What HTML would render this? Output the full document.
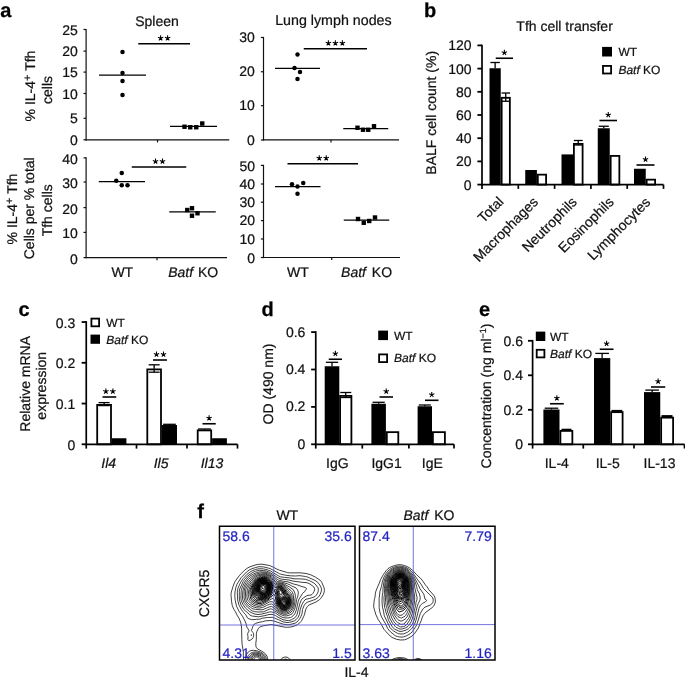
<!DOCTYPE html>
<html><head><meta charset="utf-8"><title>Figure</title>
<style>
html,body{margin:0;padding:0;background:#fff;}
body{width:685px;height:681px;overflow:hidden;}
svg{display:block;font-family:"Liberation Sans",sans-serif;text-rendering:geometricPrecision;}
text{white-space:pre;}
svg{will-change:transform;transform:translateZ(0);}
</style></head><body>
<svg width="685" height="681" viewBox="0 0 685 681">
<rect width="685" height="681" fill="#fff"/>
<text x="0.2" y="17.2" font-size="20" text-anchor="start" fill="#000" font-weight="bold" stroke="#000" stroke-width="0.25">a</text>
<text x="424" y="17.2" font-size="20" text-anchor="start" fill="#000" font-weight="bold" stroke="#000" stroke-width="0.25">b</text>
<text x="18.4" y="315.6" font-size="20" text-anchor="start" fill="#000" font-weight="bold" stroke="#000" stroke-width="0.25">c</text>
<text x="261.5" y="315.6" font-size="20" text-anchor="start" fill="#000" font-weight="bold" stroke="#000" stroke-width="0.25">d</text>
<text x="478.9" y="315.6" font-size="20" text-anchor="start" fill="#000" font-weight="bold" stroke="#000" stroke-width="0.25">e</text>
<text x="197.2" y="518" font-size="20" text-anchor="start" fill="#000" font-weight="bold" stroke="#000" stroke-width="0.25">f</text>
<line x1="86.1" y1="28.9" x2="86.1" y2="140.4" stroke="#111" stroke-width="1.2"/>
<line x1="85.5" y1="139.8" x2="229.25" y2="139.8" stroke="#111" stroke-width="1.2"/>
<line x1="157.5" y1="139.8" x2="157.5" y2="142.4" stroke="#111" stroke-width="1.2"/>
<line x1="83.5" y1="29.5" x2="86.1" y2="29.5" stroke="#111" stroke-width="1.2"/>
<line x1="83.5" y1="51.1" x2="86.1" y2="51.1" stroke="#111" stroke-width="1.2"/>
<line x1="83.5" y1="72.1" x2="86.1" y2="72.1" stroke="#111" stroke-width="1.2"/>
<line x1="83.5" y1="93.5" x2="86.1" y2="93.5" stroke="#111" stroke-width="1.2"/>
<line x1="83.5" y1="118.3" x2="86.1" y2="118.3" stroke="#111" stroke-width="1.2"/>
<line x1="83.5" y1="139.8" x2="86.1" y2="139.8" stroke="#111" stroke-width="1.2"/>
<text x="77.8" y="34.89" font-size="14.0" text-anchor="end" fill="#111" stroke="#111" stroke-width="0.22" >25</text>
<text x="77.8" y="56.19" font-size="14.0" text-anchor="end" fill="#111" stroke="#111" stroke-width="0.22" >20</text>
<text x="77.8" y="77.19" font-size="14.0" text-anchor="end" fill="#111" stroke="#111" stroke-width="0.22" >15</text>
<text x="77.8" y="98.59" font-size="14.0" text-anchor="end" fill="#111" stroke="#111" stroke-width="0.22" >10</text>
<text x="77.8" y="123.19" font-size="14.0" text-anchor="end" fill="#111" stroke="#111" stroke-width="0.22" >5</text>
<text x="77.8" y="145.19" font-size="14.0" text-anchor="end" fill="#111" stroke="#111" stroke-width="0.22" >0</text>
<text x="157" y="26" font-size="14.0" text-anchor="middle" fill="#111" stroke="#111" stroke-width="0.22" >Spleen</text>
<circle cx="122.5" cy="52" r="2.25" fill="#000"/>
<circle cx="122.5" cy="73" r="2.25" fill="#000"/>
<circle cx="122.5" cy="81" r="2.25" fill="#000"/>
<circle cx="122.5" cy="95" r="2.25" fill="#000"/>
<line x1="99" y1="75" x2="146" y2="75" stroke="#000" stroke-width="1.25"/>
<rect x="182.3" y="124.55" width="4.4" height="4.4" fill="#000"/>
<rect x="188.05" y="125.05" width="4.4" height="4.4" fill="#000"/>
<rect x="194.05" y="125.05" width="4.4" height="4.4" fill="#000"/>
<rect x="200.05" y="121.3" width="4.4" height="4.4" fill="#000"/>
<line x1="170" y1="126.25" x2="217" y2="126.25" stroke="#000" stroke-width="1.25"/>
<line x1="138.25" y1="43.75" x2="190" y2="43.75" stroke="#000" stroke-width="1.6"/>
<path d="M160.62 38.15L160.62 35.35M160.62 38.15L163.29 37.28M160.62 38.15L162.27 40.42M160.62 38.15L158.98 40.42M160.62 38.15L157.96 37.28" stroke="#000" stroke-width="1.05" fill="none"/>
<circle cx="160.62" cy="38.15" r="0.9" fill="#000"/>
<path d="M167.62 38.15L167.62 35.35M167.62 38.15L170.29 37.28M167.62 38.15L169.27 40.42M167.62 38.15L165.98 40.42M167.62 38.15L164.96 37.28" stroke="#000" stroke-width="1.05" fill="none"/>
<circle cx="167.62" cy="38.15" r="0.9" fill="#000"/>
<line x1="263.5" y1="36.9" x2="263.5" y2="140.4" stroke="#111" stroke-width="1.2"/>
<line x1="262.9" y1="139.8" x2="399" y2="139.8" stroke="#111" stroke-width="1.2"/>
<line x1="331" y1="139.8" x2="331" y2="142.4" stroke="#111" stroke-width="1.2"/>
<line x1="260.9" y1="37.5" x2="263.5" y2="37.5" stroke="#111" stroke-width="1.2"/>
<line x1="260.9" y1="71.75" x2="263.5" y2="71.75" stroke="#111" stroke-width="1.2"/>
<line x1="260.9" y1="105.7" x2="263.5" y2="105.7" stroke="#111" stroke-width="1.2"/>
<line x1="260.9" y1="140" x2="263.5" y2="140" stroke="#111" stroke-width="1.2"/>
<text x="254.8" y="42.29" font-size="14.0" text-anchor="end" fill="#111" stroke="#111" stroke-width="0.22" >30</text>
<text x="254.8" y="76.49" font-size="14.0" text-anchor="end" fill="#111" stroke="#111" stroke-width="0.22" >20</text>
<text x="254.8" y="110.19" font-size="14.0" text-anchor="end" fill="#111" stroke="#111" stroke-width="0.22" >10</text>
<text x="254.8" y="145.19" font-size="14.0" text-anchor="end" fill="#111" stroke="#111" stroke-width="0.22" >0</text>
<text x="333.4" y="24.7" font-size="14.25" text-anchor="middle" fill="#111" stroke="#111" stroke-width="0.22" >Lung lymph nodes</text>
<circle cx="297.5" cy="54.5" r="2.25" fill="#000"/>
<circle cx="294.5" cy="68" r="2.25" fill="#000"/>
<circle cx="300" cy="72" r="2.25" fill="#000"/>
<circle cx="297.5" cy="79" r="2.25" fill="#000"/>
<line x1="275" y1="68.25" x2="320" y2="68.25" stroke="#000" stroke-width="1.25"/>
<rect x="355.3" y="125.55" width="4.4" height="4.4" fill="#000"/>
<rect x="360.8" y="127.55" width="4.4" height="4.4" fill="#000"/>
<rect x="366.05" y="127.55" width="4.4" height="4.4" fill="#000"/>
<rect x="371.8" y="124.05" width="4.4" height="4.4" fill="#000"/>
<line x1="343.25" y1="128.5" x2="388.25" y2="128.5" stroke="#000" stroke-width="1.25"/>
<line x1="303.75" y1="48.75" x2="367" y2="48.75" stroke="#000" stroke-width="1.6"/>
<path d="M328.38 43.15L328.38 40.35M328.38 43.15L331.04 42.28M328.38 43.15L330.02 45.42M328.38 43.15L326.73 45.42M328.38 43.15L325.71 42.28" stroke="#000" stroke-width="1.05" fill="none"/>
<circle cx="328.38" cy="43.15" r="0.9" fill="#000"/>
<path d="M335.38 43.15L335.38 40.35M335.38 43.15L338.04 42.28M335.38 43.15L337.02 45.42M335.38 43.15L333.73 45.42M335.38 43.15L332.71 42.28" stroke="#000" stroke-width="1.05" fill="none"/>
<circle cx="335.38" cy="43.15" r="0.9" fill="#000"/>
<path d="M342.38 43.15L342.38 40.35M342.38 43.15L345.04 42.28M342.38 43.15L344.02 45.42M342.38 43.15L340.73 45.42M342.38 43.15L339.71 42.28" stroke="#000" stroke-width="1.05" fill="none"/>
<circle cx="342.38" cy="43.15" r="0.9" fill="#000"/>
<line x1="86.1" y1="157.3" x2="86.1" y2="258.2" stroke="#111" stroke-width="1.2"/>
<line x1="85.5" y1="257.6" x2="227" y2="257.6" stroke="#111" stroke-width="1.2"/>
<line x1="157" y1="257.6" x2="157" y2="260.2" stroke="#111" stroke-width="1.2"/>
<line x1="83.5" y1="157.9" x2="86.1" y2="157.9" stroke="#111" stroke-width="1.2"/>
<line x1="83.5" y1="182" x2="86.1" y2="182" stroke="#111" stroke-width="1.2"/>
<line x1="83.5" y1="207.6" x2="86.1" y2="207.6" stroke="#111" stroke-width="1.2"/>
<line x1="83.5" y1="232.4" x2="86.1" y2="232.4" stroke="#111" stroke-width="1.2"/>
<line x1="83.5" y1="257.6" x2="86.1" y2="257.6" stroke="#111" stroke-width="1.2"/>
<text x="77.8" y="163.69" font-size="14.0" text-anchor="end" fill="#111" stroke="#111" stroke-width="0.22" >40</text>
<text x="77.8" y="187.79" font-size="14.0" text-anchor="end" fill="#111" stroke="#111" stroke-width="0.22" >30</text>
<text x="77.8" y="213.69" font-size="14.0" text-anchor="end" fill="#111" stroke="#111" stroke-width="0.22" >20</text>
<text x="77.8" y="237.99" font-size="14.0" text-anchor="end" fill="#111" stroke="#111" stroke-width="0.22" >10</text>
<text x="77.8" y="263.59" font-size="14.0" text-anchor="end" fill="#111" stroke="#111" stroke-width="0.22" >0</text>
<circle cx="121.75" cy="173" r="2.25" fill="#000"/>
<circle cx="116.25" cy="180.75" r="2.25" fill="#000"/>
<circle cx="121.75" cy="185.25" r="2.25" fill="#000"/>
<circle cx="127.5" cy="185.25" r="2.25" fill="#000"/>
<line x1="98.75" y1="181.5" x2="145" y2="181.5" stroke="#000" stroke-width="1.25"/>
<rect x="185.05" y="207.8" width="4.4" height="4.4" fill="#000"/>
<rect x="189.8" y="206.05" width="4.4" height="4.4" fill="#000"/>
<rect x="189.8" y="213.55" width="4.4" height="4.4" fill="#000"/>
<rect x="195.3" y="211.05" width="4.4" height="4.4" fill="#000"/>
<line x1="169.25" y1="211.75" x2="215.75" y2="211.75" stroke="#000" stroke-width="1.25"/>
<line x1="131.75" y1="167" x2="186.25" y2="167" stroke="#000" stroke-width="1.6"/>
<path d="M155.5 161.4L155.5 158.6M155.5 161.4L158.16 160.53M155.5 161.4L157.15 163.67M155.5 161.4L153.85 163.67M155.5 161.4L152.84 160.53" stroke="#000" stroke-width="1.05" fill="none"/>
<circle cx="155.5" cy="161.4" r="0.9" fill="#000"/>
<path d="M162.5 161.4L162.5 158.6M162.5 161.4L165.16 160.53M162.5 161.4L164.15 163.67M162.5 161.4L160.85 163.67M162.5 161.4L159.84 160.53" stroke="#000" stroke-width="1.05" fill="none"/>
<circle cx="162.5" cy="161.4" r="0.9" fill="#000"/>
<text x="122.3" y="277.3" font-size="14.0" text-anchor="middle" fill="#111" stroke="#111" stroke-width="0.22" >WT</text>
<text x="193.2" y="277.3" font-size="14.0" text-anchor="middle" fill="#111" stroke="#111" stroke-width="0.22" word-spacing="1"><tspan font-style="italic">Batf</tspan> KO</text>
<line x1="263.5" y1="164.8" x2="263.5" y2="258.1" stroke="#111" stroke-width="1.2"/>
<line x1="262.9" y1="257.5" x2="400" y2="257.5" stroke="#111" stroke-width="1.2"/>
<line x1="331.75" y1="257.5" x2="331.75" y2="260.1" stroke="#111" stroke-width="1.2"/>
<line x1="260.9" y1="165.4" x2="263.5" y2="165.4" stroke="#111" stroke-width="1.2"/>
<line x1="260.9" y1="184" x2="263.5" y2="184" stroke="#111" stroke-width="1.2"/>
<line x1="260.9" y1="202.2" x2="263.5" y2="202.2" stroke="#111" stroke-width="1.2"/>
<line x1="260.9" y1="220.6" x2="263.5" y2="220.6" stroke="#111" stroke-width="1.2"/>
<line x1="260.9" y1="239" x2="263.5" y2="239" stroke="#111" stroke-width="1.2"/>
<line x1="260.9" y1="257.5" x2="263.5" y2="257.5" stroke="#111" stroke-width="1.2"/>
<text x="255" y="171.49" font-size="14.0" text-anchor="end" fill="#111" stroke="#111" stroke-width="0.22" >50</text>
<text x="255" y="189.19" font-size="14.0" text-anchor="end" fill="#111" stroke="#111" stroke-width="0.22" >40</text>
<text x="255" y="207.19" font-size="14.0" text-anchor="end" fill="#111" stroke="#111" stroke-width="0.22" >30</text>
<text x="255" y="225.29" font-size="14.0" text-anchor="end" fill="#111" stroke="#111" stroke-width="0.22" >20</text>
<text x="255" y="243.89" font-size="14.0" text-anchor="end" fill="#111" stroke="#111" stroke-width="0.22" >10</text>
<text x="255" y="263.19" font-size="14.0" text-anchor="end" fill="#111" stroke="#111" stroke-width="0.22" >0</text>
<circle cx="292" cy="184.25" r="2.25" fill="#000"/>
<circle cx="297.5" cy="186.5" r="2.25" fill="#000"/>
<circle cx="303.25" cy="183" r="2.25" fill="#000"/>
<circle cx="297.5" cy="193.75" r="2.25" fill="#000"/>
<line x1="275" y1="186.7" x2="320.5" y2="186.7" stroke="#000" stroke-width="1.25"/>
<rect x="355.8" y="216.8" width="4.4" height="4.4" fill="#000"/>
<rect x="361.55" y="220.55" width="4.4" height="4.4" fill="#000"/>
<rect x="367.05" y="218.8" width="4.4" height="4.4" fill="#000"/>
<rect x="372.8" y="215.3" width="4.4" height="4.4" fill="#000"/>
<line x1="343.75" y1="220" x2="389.25" y2="220" stroke="#000" stroke-width="1.25"/>
<line x1="287.5" y1="163.75" x2="358" y2="163.75" stroke="#000" stroke-width="1.6"/>
<path d="M319.25 158.15L319.25 155.35M319.25 158.15L321.91 157.28M319.25 158.15L320.9 160.42M319.25 158.15L317.6 160.42M319.25 158.15L316.59 157.28" stroke="#000" stroke-width="1.05" fill="none"/>
<circle cx="319.25" cy="158.15" r="0.9" fill="#000"/>
<path d="M326.25 158.15L326.25 155.35M326.25 158.15L328.91 157.28M326.25 158.15L327.9 160.42M326.25 158.15L324.6 160.42M326.25 158.15L323.59 157.28" stroke="#000" stroke-width="1.05" fill="none"/>
<circle cx="326.25" cy="158.15" r="0.9" fill="#000"/>
<text x="298" y="277.3" font-size="14.0" text-anchor="middle" fill="#111" stroke="#111" stroke-width="0.22" >WT</text>
<text x="366.6" y="277.3" font-size="14.0" text-anchor="middle" fill="#111" stroke="#111" stroke-width="0.22" word-spacing="2"><tspan font-style="italic">Batf</tspan> KO</text>
<text transform="translate(35.3 86) rotate(-90)" font-size="14.0" text-anchor="middle" fill="#111" stroke="#111" stroke-width="0.22" >% IL-4<tspan font-size="11" dy="-4.5">+</tspan><tspan dy="4.5"> Tfh</tspan></text>
<text transform="translate(52.2 90) rotate(-90)" font-size="14.0" text-anchor="middle" fill="#111" stroke="#111" stroke-width="0.22" >cells</text>
<text transform="translate(17.4 209) rotate(-90)" font-size="14.0" text-anchor="middle" fill="#111" stroke="#111" stroke-width="0.22" >% IL-4<tspan font-size="11" dy="-4.5">+</tspan><tspan dy="4.5"> Tfh</tspan></text>
<text transform="translate(34.4 208.3) rotate(-90)" font-size="14.0" text-anchor="middle" fill="#111" stroke="#111" stroke-width="0.22" >Cells per % total</text>
<text transform="translate(51.8 210.3) rotate(-90)" font-size="14.0" text-anchor="middle" fill="#111" stroke="#111" stroke-width="0.22" >Tfh cells</text>
<rect x="489.5" y="68.25" width="11.25" height="116.35" fill="#000"/>
<line x1="495.12" y1="68.25" x2="495.12" y2="62.5" stroke="#000" stroke-width="1.3"/>
<line x1="490.4" y1="62.5" x2="499.85" y2="62.5" stroke="#000" stroke-width="1.3"/>
<rect x="501.65" y="97.8" width="8.2" height="86.8" fill="#fff" stroke="#000" stroke-width="1.8"/>
<line x1="505.75" y1="96.9" x2="505.75" y2="93" stroke="#000" stroke-width="1.3"/>
<line x1="501.55" y1="93" x2="509.95" y2="93" stroke="#000" stroke-width="1.3"/>
<line x1="505.75" y1="96.9" x2="505.75" y2="101.25" stroke="#000" stroke-width="1.3"/>
<line x1="501.55" y1="101.25" x2="509.95" y2="101.25" stroke="#000" stroke-width="1.3"/>
<rect x="525.25" y="170" width="11.65" height="14.6" fill="#000"/>
<rect x="537.8" y="174.65" width="8.3" height="9.95" fill="#fff" stroke="#000" stroke-width="1.8"/>
<rect x="561.5" y="154.4" width="11.5" height="30.2" fill="#000"/>
<rect x="573.9" y="143.9" width="8.7" height="40.7" fill="#fff" stroke="#000" stroke-width="1.8"/>
<line x1="578.25" y1="143" x2="578.25" y2="140.5" stroke="#000" stroke-width="1.3"/>
<line x1="573.84" y1="140.5" x2="582.66" y2="140.5" stroke="#000" stroke-width="1.3"/>
<line x1="578.25" y1="143" x2="578.25" y2="145" stroke="#000" stroke-width="1.3"/>
<line x1="573.84" y1="145" x2="582.66" y2="145" stroke="#000" stroke-width="1.3"/>
<rect x="597.75" y="128.25" width="12" height="56.35" fill="#000"/>
<line x1="603.75" y1="128.25" x2="603.75" y2="126.25" stroke="#000" stroke-width="1.3"/>
<line x1="598.71" y1="126.25" x2="608.79" y2="126.25" stroke="#000" stroke-width="1.3"/>
<rect x="610.65" y="155.9" width="8.7" height="28.7" fill="#fff" stroke="#000" stroke-width="1.8"/>
<rect x="634" y="168.75" width="11.75" height="15.85" fill="#000"/>
<rect x="646.65" y="179.65" width="8.45" height="4.95" fill="#fff" stroke="#000" stroke-width="1.8"/>
<line x1="482" y1="44.65" x2="482" y2="185.45" stroke="#000" stroke-width="1.7"/>
<line x1="482" y1="184.6" x2="663.5" y2="184.6" stroke="#000" stroke-width="1.7"/>
<line x1="482" y1="184.6" x2="482" y2="188.9" stroke="#000" stroke-width="1.7"/>
<line x1="518.3" y1="184.6" x2="518.3" y2="188.9" stroke="#000" stroke-width="1.7"/>
<line x1="554.6" y1="184.6" x2="554.6" y2="188.9" stroke="#000" stroke-width="1.7"/>
<line x1="590.9" y1="184.6" x2="590.9" y2="188.9" stroke="#000" stroke-width="1.7"/>
<line x1="627.2" y1="184.6" x2="627.2" y2="188.9" stroke="#000" stroke-width="1.7"/>
<line x1="663.5" y1="184.6" x2="663.5" y2="188.9" stroke="#000" stroke-width="1.7"/>
<line x1="477.4" y1="184.6" x2="482" y2="184.6" stroke="#000" stroke-width="1.8"/>
<line x1="477.4" y1="161.4" x2="482" y2="161.4" stroke="#000" stroke-width="1.8"/>
<line x1="477.4" y1="138.2" x2="482" y2="138.2" stroke="#000" stroke-width="1.8"/>
<line x1="477.4" y1="115" x2="482" y2="115" stroke="#000" stroke-width="1.8"/>
<line x1="477.4" y1="91.8" x2="482" y2="91.8" stroke="#000" stroke-width="1.8"/>
<line x1="477.4" y1="68.6" x2="482" y2="68.6" stroke="#000" stroke-width="1.8"/>
<line x1="477.4" y1="45.4" x2="482" y2="45.4" stroke="#000" stroke-width="1.8"/>
<text x="471.5" y="189.69" font-size="14.0" text-anchor="end" fill="#111" stroke="#111" stroke-width="0.22" >0</text>
<text x="471.5" y="166.49" font-size="14.0" text-anchor="end" fill="#111" stroke="#111" stroke-width="0.22" >20</text>
<text x="471.5" y="143.29" font-size="14.0" text-anchor="end" fill="#111" stroke="#111" stroke-width="0.22" >40</text>
<text x="471.5" y="120.09" font-size="14.0" text-anchor="end" fill="#111" stroke="#111" stroke-width="0.22" >60</text>
<text x="471.5" y="96.89" font-size="14.0" text-anchor="end" fill="#111" stroke="#111" stroke-width="0.22" >80</text>
<text x="471.5" y="73.69" font-size="14.0" text-anchor="end" fill="#111" stroke="#111" stroke-width="0.22" >100</text>
<text x="471.5" y="50.49" font-size="14.0" text-anchor="end" fill="#111" stroke="#111" stroke-width="0.22" >120</text>
<text x="564.6" y="30.6" font-size="14.0" text-anchor="middle" fill="#111" stroke="#111" stroke-width="0.22" >Tfh cell transfer</text>
<text transform="translate(435.6 112.8) rotate(-90)" font-size="14.0" text-anchor="middle" fill="#111" stroke="#111" stroke-width="0.22" >BALF cell count (%)</text>
<rect x="602.1" y="46.9" width="9.9" height="9.6" fill="#000"/>
<rect x="603" y="65.9" width="8.1" height="7.6" fill="#fff" stroke="#000" stroke-width="1.8"/>
<text x="618.4" y="56.4" font-size="12.0" text-anchor="start" fill="#111" stroke="#111" stroke-width="0.22" >WT</text>
<text x="618.4" y="74.4" font-size="12.0" text-anchor="start" fill="#111" stroke="#111" stroke-width="0.22" ><tspan font-style="italic">Batf</tspan> KO</text>
<line x1="495.75" y1="58.25" x2="513" y2="58.25" stroke="#000" stroke-width="1.6"/>
<path d="M504.38 52.65L504.38 49.85M504.38 52.65L507.04 51.78M504.38 52.65L506.02 54.92M504.38 52.65L502.73 54.92M504.38 52.65L501.71 51.78" stroke="#000" stroke-width="1.05" fill="none"/>
<circle cx="504.38" cy="52.65" r="0.9" fill="#000"/>
<line x1="599.5" y1="120.5" x2="617" y2="120.5" stroke="#000" stroke-width="1.6"/>
<path d="M608.25 114.9L608.25 112.1M608.25 114.9L610.91 114.03M608.25 114.9L609.9 117.17M608.25 114.9L606.6 117.17M608.25 114.9L605.59 114.03" stroke="#000" stroke-width="1.05" fill="none"/>
<circle cx="608.25" cy="114.9" r="0.9" fill="#000"/>
<line x1="636.5" y1="165" x2="654.5" y2="165" stroke="#000" stroke-width="1.6"/>
<path d="M645.5 159.4L645.5 156.6M645.5 159.4L648.16 158.53M645.5 159.4L647.15 161.67M645.5 159.4L643.85 161.67M645.5 159.4L642.84 158.53" stroke="#000" stroke-width="1.05" fill="none"/>
<circle cx="645.5" cy="159.4" r="0.9" fill="#000"/>
<text transform="translate(504.4 202.5) rotate(-45)" font-size="14.0" text-anchor="end" fill="#111" stroke="#111" stroke-width="0.22" >Total</text>
<text transform="translate(539 202.75) rotate(-45)" font-size="14.0" text-anchor="end" fill="#111" stroke="#111" stroke-width="0.22" >Macrophages</text>
<text transform="translate(577.8 202.75) rotate(-45)" font-size="14.0" text-anchor="end" fill="#111" stroke="#111" stroke-width="0.22" >Neutrophils</text>
<text transform="translate(614.7 202.75) rotate(-45)" font-size="14.0" text-anchor="end" fill="#111" stroke="#111" stroke-width="0.22" >Eosinophils</text>
<text transform="translate(651.1 203.1) rotate(-45)" font-size="14.0" text-anchor="end" fill="#111" stroke="#111" stroke-width="0.22" >Lymphocytes</text>
<rect x="97.2" y="404.9" width="13.8" height="39.4" fill="#fff" stroke="#000" stroke-width="1.8"/>
<line x1="104.1" y1="404" x2="104.1" y2="402.6" stroke="#000" stroke-width="1.3"/>
<line x1="98.6" y1="402.6" x2="109.6" y2="402.6" stroke="#000" stroke-width="1.3"/>
<line x1="104.1" y1="404" x2="104.1" y2="405.6" stroke="#000" stroke-width="1.3"/>
<line x1="98.6" y1="405.6" x2="109.6" y2="405.6" stroke="#000" stroke-width="1.3"/>
<rect x="111.9" y="438.25" width="14.5" height="6.05" fill="#000"/>
<rect x="147.3" y="369.4" width="13.7" height="74.9" fill="#fff" stroke="#000" stroke-width="1.8"/>
<line x1="154.15" y1="368.5" x2="154.15" y2="364.8" stroke="#000" stroke-width="1.3"/>
<line x1="148.65" y1="364.8" x2="159.65" y2="364.8" stroke="#000" stroke-width="1.3"/>
<line x1="154.15" y1="368.5" x2="154.15" y2="372.2" stroke="#000" stroke-width="1.3"/>
<line x1="148.65" y1="372.2" x2="159.65" y2="372.2" stroke="#000" stroke-width="1.3"/>
<rect x="161.9" y="425" width="15.1" height="19.3" fill="#000"/>
<line x1="169.45" y1="425" x2="169.45" y2="424.3" stroke="#000" stroke-width="1.3"/>
<line x1="163.11" y1="424.3" x2="175.79" y2="424.3" stroke="#000" stroke-width="1.3"/>
<rect x="197.7" y="430.4" width="13.5" height="13.9" fill="#fff" stroke="#000" stroke-width="1.8"/>
<line x1="204.45" y1="429.5" x2="204.45" y2="429" stroke="#000" stroke-width="1.3"/>
<line x1="198.02" y1="429" x2="210.88" y2="429" stroke="#000" stroke-width="1.3"/>
<rect x="212.1" y="438.25" width="14.8" height="6.05" fill="#000"/>
<line x1="86.25" y1="321.15" x2="86.25" y2="445.15" stroke="#000" stroke-width="1.7"/>
<line x1="86.25" y1="444.3" x2="237.5" y2="444.3" stroke="#000" stroke-width="1.7"/>
<line x1="86.25" y1="444.3" x2="86.25" y2="448.6" stroke="#000" stroke-width="1.7"/>
<line x1="136.5" y1="444.3" x2="136.5" y2="448.6" stroke="#000" stroke-width="1.7"/>
<line x1="187" y1="444.3" x2="187" y2="448.6" stroke="#000" stroke-width="1.7"/>
<line x1="237.5" y1="444.3" x2="237.5" y2="448.6" stroke="#000" stroke-width="1.7"/>
<line x1="81.65" y1="444.3" x2="86.25" y2="444.3" stroke="#000" stroke-width="1.8"/>
<line x1="81.65" y1="403.55" x2="86.25" y2="403.55" stroke="#000" stroke-width="1.8"/>
<line x1="81.65" y1="362.8" x2="86.25" y2="362.8" stroke="#000" stroke-width="1.8"/>
<line x1="81.65" y1="322.05" x2="86.25" y2="322.05" stroke="#000" stroke-width="1.8"/>
<text x="75.3" y="449.69" font-size="14.0" text-anchor="end" fill="#111" stroke="#111" stroke-width="0.22" >0</text>
<text x="75.3" y="408.69" font-size="14.0" text-anchor="end" fill="#111" stroke="#111" stroke-width="0.22" >0.1</text>
<text x="75.3" y="368.29" font-size="14.0" text-anchor="end" fill="#111" stroke="#111" stroke-width="0.22" >0.2</text>
<text x="75.3" y="327.69" font-size="14.0" text-anchor="end" fill="#111" stroke="#111" stroke-width="0.22" >0.3</text>
<rect x="91.4" y="318.6" width="7.7" height="7.7" fill="#fff" stroke="#000" stroke-width="1.8"/>
<rect x="90.5" y="334.6" width="9.5" height="9.2" fill="#000"/>
<text x="106.25" y="327" font-size="12.0" text-anchor="start" fill="#111" stroke="#111" stroke-width="0.22" >WT</text>
<text x="106.25" y="343.6" font-size="12.0" text-anchor="start" fill="#111" stroke="#111" stroke-width="0.22" ><tspan font-style="italic">Batf</tspan> KO</text>
<line x1="102.5" y1="397" x2="116.25" y2="397" stroke="#000" stroke-width="1.6"/>
<path d="M105.88 391.4L105.88 388.6M105.88 391.4L108.54 390.53M105.88 391.4L107.52 393.67M105.88 391.4L104.23 393.67M105.88 391.4L103.21 390.53" stroke="#000" stroke-width="1.05" fill="none"/>
<circle cx="105.88" cy="391.4" r="0.9" fill="#000"/>
<path d="M112.88 391.4L112.88 388.6M112.88 391.4L115.54 390.53M112.88 391.4L114.52 393.67M112.88 391.4L111.23 393.67M112.88 391.4L110.21 390.53" stroke="#000" stroke-width="1.05" fill="none"/>
<circle cx="112.88" cy="391.4" r="0.9" fill="#000"/>
<line x1="153" y1="360" x2="167" y2="360" stroke="#000" stroke-width="1.6"/>
<path d="M156.5 354.4L156.5 351.6M156.5 354.4L159.16 353.53M156.5 354.4L158.15 356.67M156.5 354.4L154.85 356.67M156.5 354.4L153.84 353.53" stroke="#000" stroke-width="1.05" fill="none"/>
<circle cx="156.5" cy="354.4" r="0.9" fill="#000"/>
<path d="M163.5 354.4L163.5 351.6M163.5 354.4L166.16 353.53M163.5 354.4L165.15 356.67M163.5 354.4L161.85 356.67M163.5 354.4L160.84 353.53" stroke="#000" stroke-width="1.05" fill="none"/>
<circle cx="163.5" cy="354.4" r="0.9" fill="#000"/>
<line x1="202.5" y1="423.75" x2="215.75" y2="423.75" stroke="#000" stroke-width="1.6"/>
<path d="M209.12 418.15L209.12 415.35M209.12 418.15L211.79 417.28M209.12 418.15L210.77 420.42M209.12 418.15L207.48 420.42M209.12 418.15L206.46 417.28" stroke="#000" stroke-width="1.05" fill="none"/>
<circle cx="209.12" cy="418.15" r="0.9" fill="#000"/>
<text x="108.7" y="467.9" font-size="14.0" text-anchor="middle" fill="#111" stroke="#111" stroke-width="0.22" font-style="italic">Il4</text>
<text x="161.1" y="467.9" font-size="14.0" text-anchor="middle" fill="#111" stroke="#111" stroke-width="0.22" font-style="italic">Il5</text>
<text x="212" y="467.9" font-size="14.0" text-anchor="middle" fill="#111" stroke="#111" stroke-width="0.22" font-style="italic">Il13</text>
<text transform="translate(30.2 383.8) rotate(-90)" font-size="14.0" text-anchor="middle" fill="#111" stroke="#111" stroke-width="0.22" >Relative mRNA</text>
<text transform="translate(46.2 385.8) rotate(-90)" font-size="14.0" text-anchor="middle" fill="#111" stroke="#111" stroke-width="0.22" >expression</text>
<rect x="324.7" y="366.25" width="14.6" height="78.05" fill="#000"/>
<line x1="332" y1="366.25" x2="332" y2="362.3" stroke="#000" stroke-width="1.3"/>
<line x1="325.87" y1="362.3" x2="338.13" y2="362.3" stroke="#000" stroke-width="1.3"/>
<rect x="340.1" y="395.9" width="11.3" height="48.4" fill="#fff" stroke="#000" stroke-width="1.8"/>
<line x1="345.75" y1="395" x2="345.75" y2="392.5" stroke="#000" stroke-width="1.3"/>
<line x1="340.25" y1="392.5" x2="351.25" y2="392.5" stroke="#000" stroke-width="1.3"/>
<line x1="345.75" y1="395" x2="345.75" y2="397.5" stroke="#000" stroke-width="1.3"/>
<line x1="340.25" y1="397.5" x2="351.25" y2="397.5" stroke="#000" stroke-width="1.3"/>
<rect x="371.4" y="403.75" width="14.5" height="40.55" fill="#000"/>
<line x1="378.65" y1="403.75" x2="378.65" y2="402.3" stroke="#000" stroke-width="1.3"/>
<line x1="372.56" y1="402.3" x2="384.74" y2="402.3" stroke="#000" stroke-width="1.3"/>
<rect x="386.8" y="432.15" width="11.5" height="12.15" fill="#fff" stroke="#000" stroke-width="1.8"/>
<rect x="417.6" y="406.25" width="14.4" height="38.05" fill="#000"/>
<line x1="424.8" y1="406.25" x2="424.8" y2="405" stroke="#000" stroke-width="1.3"/>
<line x1="418.75" y1="405" x2="430.85" y2="405" stroke="#000" stroke-width="1.3"/>
<rect x="432.9" y="432.15" width="12" height="12.15" fill="#fff" stroke="#000" stroke-width="1.8"/>
<line x1="315.75" y1="331.15" x2="315.75" y2="445.15" stroke="#000" stroke-width="1.7"/>
<line x1="315.75" y1="444.3" x2="454" y2="444.3" stroke="#000" stroke-width="1.7"/>
<line x1="315.75" y1="444.3" x2="315.75" y2="448.6" stroke="#000" stroke-width="1.7"/>
<line x1="362.3" y1="444.3" x2="362.3" y2="448.6" stroke="#000" stroke-width="1.7"/>
<line x1="408.9" y1="444.3" x2="408.9" y2="448.6" stroke="#000" stroke-width="1.7"/>
<line x1="454" y1="444.3" x2="454" y2="448.6" stroke="#000" stroke-width="1.7"/>
<line x1="311.15" y1="444.3" x2="315.75" y2="444.3" stroke="#000" stroke-width="1.8"/>
<line x1="311.15" y1="406.9" x2="315.75" y2="406.9" stroke="#000" stroke-width="1.8"/>
<line x1="311.15" y1="369.5" x2="315.75" y2="369.5" stroke="#000" stroke-width="1.8"/>
<line x1="311.15" y1="332.1" x2="315.75" y2="332.1" stroke="#000" stroke-width="1.8"/>
<text x="305.4" y="449.29" font-size="14.0" text-anchor="end" fill="#111" stroke="#111" stroke-width="0.22" >0</text>
<text x="305.4" y="411.39" font-size="14.0" text-anchor="end" fill="#111" stroke="#111" stroke-width="0.22" >0.2</text>
<text x="305.4" y="373.69" font-size="14.0" text-anchor="end" fill="#111" stroke="#111" stroke-width="0.22" >0.4</text>
<text x="305.4" y="336.79" font-size="14.0" text-anchor="end" fill="#111" stroke="#111" stroke-width="0.22" >0.6</text>
<rect x="378.2" y="330.6" width="9.8" height="9.5" fill="#000"/>
<rect x="379.1" y="354.4" width="8" height="7.7" fill="#fff" stroke="#000" stroke-width="1.8"/>
<text x="394" y="339.8" font-size="12.0" text-anchor="start" fill="#111" stroke="#111" stroke-width="0.22" >WT</text>
<text x="394" y="362.2" font-size="12.0" text-anchor="start" fill="#111" stroke="#111" stroke-width="0.22" ><tspan font-style="italic">Batf</tspan> KO</text>
<line x1="328.75" y1="359.25" x2="342" y2="359.25" stroke="#000" stroke-width="1.6"/>
<path d="M335.38 353.65L335.38 350.85M335.38 353.65L338.04 352.78M335.38 353.65L337.02 355.92M335.38 353.65L333.73 355.92M335.38 353.65L332.71 352.78" stroke="#000" stroke-width="1.05" fill="none"/>
<circle cx="335.38" cy="353.65" r="0.9" fill="#000"/>
<line x1="379.5" y1="397" x2="393" y2="397" stroke="#000" stroke-width="1.6"/>
<path d="M386.25 391.4L386.25 388.6M386.25 391.4L388.91 390.53M386.25 391.4L387.9 393.67M386.25 391.4L384.6 393.67M386.25 391.4L383.59 390.53" stroke="#000" stroke-width="1.05" fill="none"/>
<circle cx="386.25" cy="391.4" r="0.9" fill="#000"/>
<line x1="425" y1="400.3" x2="438.5" y2="400.3" stroke="#000" stroke-width="1.6"/>
<path d="M431.75 394.7L431.75 391.9M431.75 394.7L434.41 393.83M431.75 394.7L433.4 396.97M431.75 394.7L430.1 396.97M431.75 394.7L429.09 393.83" stroke="#000" stroke-width="1.05" fill="none"/>
<circle cx="431.75" cy="394.7" r="0.9" fill="#000"/>
<text x="337.4" y="467.9" font-size="14.0" text-anchor="middle" fill="#111" stroke="#111" stroke-width="0.22" >IgG</text>
<text x="386.6" y="467.9" font-size="14.0" text-anchor="middle" fill="#111" stroke="#111" stroke-width="0.22" >IgG1</text>
<text x="432.3" y="467.9" font-size="14.0" text-anchor="middle" fill="#111" stroke="#111" stroke-width="0.22" >IgE</text>
<text transform="translate(273.3 384) rotate(-90)" font-size="14.0" text-anchor="middle" fill="#111" stroke="#111" stroke-width="0.22" >OD (490 nm)</text>
<rect x="543.4" y="409.5" width="16.1" height="34.8" fill="#000"/>
<line x1="551.45" y1="409.5" x2="551.45" y2="408.2" stroke="#000" stroke-width="1.3"/>
<line x1="544.69" y1="408.2" x2="558.21" y2="408.2" stroke="#000" stroke-width="1.3"/>
<rect x="560.4" y="430.9" width="11.95" height="13.4" fill="#fff" stroke="#000" stroke-width="1.8"/>
<line x1="561.5" y1="429.8" x2="571.5" y2="429.8" stroke="#000" stroke-width="2.2"/>
<rect x="594" y="358.1" width="16.25" height="86.2" fill="#000"/>
<line x1="602.12" y1="358.1" x2="602.12" y2="353.4" stroke="#000" stroke-width="1.3"/>
<line x1="595.3" y1="353.4" x2="608.95" y2="353.4" stroke="#000" stroke-width="1.3"/>
<rect x="611.15" y="412.15" width="11.45" height="32.15" fill="#fff" stroke="#000" stroke-width="1.8"/>
<line x1="611.5" y1="411.2" x2="622.3" y2="411.2" stroke="#000" stroke-width="2.6"/>
<rect x="644" y="392.1" width="16.25" height="52.2" fill="#000"/>
<line x1="652.12" y1="392.1" x2="652.12" y2="390.1" stroke="#000" stroke-width="1.3"/>
<line x1="645.3" y1="390.1" x2="658.95" y2="390.1" stroke="#000" stroke-width="1.3"/>
<rect x="661.15" y="417.65" width="11.95" height="26.65" fill="#fff" stroke="#000" stroke-width="1.8"/>
<line x1="661.5" y1="416.4" x2="672.5" y2="416.4" stroke="#000" stroke-width="2.6"/>
<line x1="532.6" y1="339.9" x2="532.6" y2="445.15" stroke="#000" stroke-width="1.7"/>
<line x1="532.6" y1="444.3" x2="684.5" y2="444.3" stroke="#000" stroke-width="1.7"/>
<line x1="532.6" y1="444.3" x2="532.6" y2="448.6" stroke="#000" stroke-width="1.7"/>
<line x1="583.3" y1="444.3" x2="583.3" y2="448.6" stroke="#000" stroke-width="1.7"/>
<line x1="634" y1="444.3" x2="634" y2="448.6" stroke="#000" stroke-width="1.7"/>
<line x1="684.5" y1="444.3" x2="684.5" y2="448.6" stroke="#000" stroke-width="1.7"/>
<line x1="528" y1="444.3" x2="532.6" y2="444.3" stroke="#000" stroke-width="1.8"/>
<line x1="528" y1="409.8" x2="532.6" y2="409.8" stroke="#000" stroke-width="1.8"/>
<line x1="528" y1="375.3" x2="532.6" y2="375.3" stroke="#000" stroke-width="1.8"/>
<line x1="528" y1="340.8" x2="532.6" y2="340.8" stroke="#000" stroke-width="1.8"/>
<text x="523" y="449.49" font-size="14.0" text-anchor="end" fill="#111" stroke="#111" stroke-width="0.22" >0</text>
<text x="523" y="414.79" font-size="14.0" text-anchor="end" fill="#111" stroke="#111" stroke-width="0.22" >0.2</text>
<text x="523" y="380.29" font-size="14.0" text-anchor="end" fill="#111" stroke="#111" stroke-width="0.22" >0.4</text>
<text x="523" y="346.09" font-size="14.0" text-anchor="end" fill="#111" stroke="#111" stroke-width="0.22" >0.6</text>
<rect x="535.8" y="331.6" width="9.5" height="9.4" fill="#000"/>
<rect x="536.7" y="349.8" width="7.7" height="7.6" fill="#fff" stroke="#000" stroke-width="1.8"/>
<text x="550" y="340.6" font-size="12.0" text-anchor="start" fill="#111" stroke="#111" stroke-width="0.22" >WT</text>
<text x="550" y="357.8" font-size="12.0" text-anchor="start" fill="#111" stroke="#111" stroke-width="0.22" ><tspan font-style="italic">Batf</tspan> KO</text>
<line x1="550" y1="403.75" x2="563.75" y2="403.75" stroke="#000" stroke-width="1.6"/>
<path d="M556.88 398.15L556.88 395.35M556.88 398.15L559.54 397.28M556.88 398.15L558.52 400.42M556.88 398.15L555.23 400.42M556.88 398.15L554.21 397.28" stroke="#000" stroke-width="1.05" fill="none"/>
<circle cx="556.88" cy="398.15" r="0.9" fill="#000"/>
<line x1="599.75" y1="349.25" x2="613.5" y2="349.25" stroke="#000" stroke-width="1.6"/>
<path d="M606.62 343.65L606.62 340.85M606.62 343.65L609.29 342.78M606.62 343.65L608.27 345.92M606.62 343.65L604.98 345.92M606.62 343.65L603.96 342.78" stroke="#000" stroke-width="1.05" fill="none"/>
<circle cx="606.62" cy="343.65" r="0.9" fill="#000"/>
<line x1="651" y1="387" x2="665.25" y2="387" stroke="#000" stroke-width="1.6"/>
<path d="M658.12 381.4L658.12 378.6M658.12 381.4L660.79 380.53M658.12 381.4L659.77 383.67M658.12 381.4L656.48 383.67M658.12 381.4L655.46 380.53" stroke="#000" stroke-width="1.05" fill="none"/>
<circle cx="658.12" cy="381.4" r="0.9" fill="#000"/>
<text x="556.8" y="467.9" font-size="14.0" text-anchor="middle" fill="#111" stroke="#111" stroke-width="0.22" >IL-4</text>
<text x="607.75" y="467.9" font-size="14.0" text-anchor="middle" fill="#111" stroke="#111" stroke-width="0.22" >IL-5</text>
<text x="659.5" y="467.9" font-size="14.0" text-anchor="middle" fill="#111" stroke="#111" stroke-width="0.22" >IL-13</text>
<text transform="translate(490.5 396) rotate(-90)" font-size="14.0" text-anchor="middle" fill="#111" stroke="#111" stroke-width="0.22" >Concentration (ng ml<tspan font-size="9" dy="-5">−1</tspan><tspan dy="5">)</tspan></text>
<clipPath id="cw"><rect x="219.5" y="526.25" width="135.5" height="133.75"/></clipPath>
<g clip-path="url(#cw)" fill="none" stroke="#000" stroke-width="0.75" stroke-linejoin="round">
<path d="M246.3 665.8 244.6 663.2 243.9 661.2 243.5 659.8 243.3 655.2 243.4 652.2 242.1 644.2 241.8 639.2 241.6 628.2 240.9 623.2 240.5 621.8 239.0 618.2 237.1 615.2 235.5 611.8 233.8 609.2 232.3 605.8 231.5 601.2 231.1 595.8 231.0 594.2 231.3 592.2 232.9 586.8 234.4 582.8 235.2 581.2 239.2 575.8 241.0 573.8 244.6 570.2 248.0 567.7 251.0 566.4 257.0 564.5 258.5 564.3 262.0 564.2 269.5 565.5 273.0 567.0 277.0 569.2 279.5 570.2 287.5 572.6 289.5 572.9 300.0 572.8 306.0 573.5 310.5 574.7 315.5 577.2 320.1 580.2 321.0 581.2 321.7 582.2 323.7 586.8 324.2 588.2 324.4 590.8 323.8 593.2 323.2 594.8 321.6 597.2 320.4 598.8 319.4 599.8 316.0 602.0 309.4 604.8 307.5 606.3 306.5 607.8 305.6 609.8 304.4 614.8 303.8 616.2 301.9 620.2 301.0 621.5 299.8 622.8 297.5 624.6 296.0 625.4 293.0 626.5 290.0 627.1 286.5 627.3 284.0 627.0 272.0 624.6 270.5 624.5 262.0 626.1 259.6 627.2 258.2 628.8 257.0 631.2 256.4 633.2 256.3 639.8 255.8 643.2 255.9 646.2 256.5 647.8 257.4 648.8 261.5 651.0 264.0 652.6 265.7 654.2 267.0 656.2 267.4 657.2 267.7 658.8 267.4 661.2 266.7 663.2 264.9 665.8"/>
<path d="M287.0 664.8 285.5 665.1 284.0 664.8 282.5 664.1 281.3 662.8 280.8 661.2 281.0 659.8 282.0 658.3 283.0 657.6 285.0 657.0 287.0 657.2 288.5 657.9 289.7 659.2 290.1 660.8 290.1 661.8 289.7 662.8 288.5 664.1 287.0 664.8Z"/>
<path d="M250.0 640.3 248.5 640.6 248.1 640.2 247.9 639.8 248.0 636.8 247.6 634.2 247.8 633.2 248.9 631.2 248.9 630.2 246.9 627.2 246.3 625.2 245.9 623.2 244.4 619.8 242.5 616.2 239.3 611.8 236.5 606.2 235.2 600.2 234.8 596.2 235.0 591.8 235.9 587.2 237.0 584.2 241.0 577.8 246.5 572.0 250.0 569.5 255.5 567.5 259.0 566.7 263.5 566.9 270.0 568.5 279.5 573.7 280.9 574.2 285.5 575.2 290.5 575.8 295.5 576.0 299.0 575.7 301.0 575.8 305.5 576.5 307.5 577.0 315.0 580.4 317.0 581.8 319.0 583.7 321.0 587.2 321.5 589.2 321.3 591.2 320.0 594.8 318.0 597.5 316.0 599.0 315.0 599.5 307.5 602.2 306.0 603.1 305.0 604.1 304.0 605.7 302.5 609.5 302.0 613.8 300.8 616.8 299.4 619.2 297.0 622.0 296.0 622.7 295.0 623.2 290.0 624.5 288.5 624.7 286.5 624.7 283.0 624.1 273.5 620.9 271.0 620.5 265.5 620.8 262.5 621.7 259.0 622.3 255.5 623.4 254.2 624.2 253.5 625.2 252.7 626.8 252.1 628.8 251.4 630.2 251.5 630.8 253.0 632.5 253.5 633.8 253.7 635.2 253.4 636.8 253.0 637.7 252.0 639.0 251.0 639.8 250.0 640.3Z"/>
<path d="M249.4 665.8 247.0 663.2 245.9 661.2 245.6 659.2 245.9 656.2 246.7 654.2 248.5 651.8 249.5 651.2 251.0 650.6 253.5 650.3 256.5 650.7 260.5 652.0 263.4 653.8 265.2 655.8 265.8 656.8 266.3 658.2 266.2 660.8 265.1 663.2 264.4 664.2 262.8 665.8"/>
<path d="M286.0 662.8 284.5 662.7 283.8 662.2 283.4 661.8 283.3 661.2 283.4 660.2 283.8 659.8 284.5 659.3 285.5 659.1 286.3 659.2 287.0 659.6 287.5 660.2 287.7 661.2 287.5 661.9 287.0 662.5 286.0 662.8Z"/>
<path d="M289.5 622.3 287.0 622.6 283.0 621.8 278.5 619.7 276.0 618.8 274.0 617.8 272.5 617.3 267.5 617.5 262.5 618.2 259.5 619.2 256.5 619.3 253.0 619.7 251.5 619.6 249.0 618.8 248.0 618.3 247.4 617.8 245.8 614.8 243.5 612.4 241.5 609.8 239.0 605.2 237.7 600.2 237.3 592.8 237.5 590.2 238.0 588.2 239.7 584.2 241.3 581.2 242.9 578.8 247.1 574.2 251.0 571.4 255.5 569.4 259.5 568.7 263.5 568.9 267.0 569.7 270.5 571.0 278.5 575.9 280.5 576.8 284.5 577.4 289.5 577.9 294.0 578.8 300.5 578.9 305.5 579.3 309.5 580.7 311.8 581.8 314.1 583.2 316.0 585.0 318.0 587.8 318.4 589.2 318.1 591.8 317.2 593.8 316.3 595.2 315.4 596.2 314.0 597.0 309.5 598.5 306.0 599.2 305.0 599.8 303.5 601.8 301.8 604.8 300.1 609.8 299.5 614.2 298.2 617.2 296.0 619.7 294.5 620.8 293.0 621.4 289.5 622.3Z"/>
<path d="M251.5 635.4 251.0 635.3 251.0 634.7 251.5 634.9 251.5 635.4Z"/>
<path d="M251.8 665.8 249.3 663.8 247.7 661.8 247.1 659.8 247.2 657.8 247.6 656.8 248.5 655.3 250.5 653.3 252.5 652.3 255.0 651.9 256.5 652.0 258.5 652.5 261.0 653.4 262.5 654.4 263.4 655.2 264.7 657.2 265.2 659.2 265.1 660.2 264.7 661.8 263.3 663.8 260.8 665.8"/>
<path d="M290.0 620.3 288.5 620.5 287.0 620.5 283.0 619.7 278.0 617.2 275.5 615.6 273.5 614.8 272.0 614.4 269.0 614.5 265.0 615.6 258.5 616.8 252.5 616.1 251.0 615.7 250.0 615.1 247.0 612.2 244.1 609.8 241.0 605.0 239.8 601.2 239.5 599.8 239.3 596.2 239.3 591.2 239.8 588.8 243.0 581.8 244.3 579.8 247.8 575.8 252.5 572.6 255.5 571.2 259.5 570.3 263.5 570.5 266.5 571.1 270.0 572.5 273.0 574.4 277.0 577.2 280.2 578.8 282.5 579.3 289.0 580.0 293.0 581.1 303.0 582.4 307.0 582.7 310.0 584.0 313.7 586.8 314.5 588.2 314.6 589.8 314.0 591.5 312.7 593.8 312.0 594.5 311.0 595.0 310.0 595.2 308.0 595.3 307.0 595.6 303.5 597.8 301.8 599.2 300.9 600.8 299.8 603.8 297.1 614.2 296.5 615.8 295.8 616.8 294.0 618.3 291.5 619.7 290.0 620.3Z"/>
<path d="M254.7 665.8 252.0 664.5 250.4 663.2 248.9 661.2 248.5 659.8 248.4 658.8 248.7 657.8 249.3 656.8 251.0 654.7 252.0 653.9 253.0 653.5 255.5 653.0 259.0 653.6 261.3 654.8 263.0 656.4 263.8 657.8 264.1 658.8 264.2 659.8 264.0 660.8 263.6 661.8 262.9 662.8 261.9 663.8 260.5 664.7 257.6 665.8"/>
<path d="M289.0 617.8 286.0 618.0 283.0 617.6 279.0 615.5 275.5 613.1 271.5 611.9 269.5 611.9 266.5 612.9 261.5 614.1 258.0 614.5 255.0 614.1 253.0 613.4 249.5 611.6 245.5 608.1 242.7 604.2 241.2 600.2 240.9 598.2 241.2 590.8 241.5 589.2 242.4 586.8 244.3 582.8 246.3 579.8 248.5 577.2 250.0 576.0 253.8 573.8 256.5 572.6 260.0 571.8 265.0 572.0 267.5 572.7 271.0 574.5 272.9 575.8 276.0 578.5 278.5 580.1 283.5 581.3 288.0 581.9 293.5 584.0 297.0 584.8 302.0 586.6 305.0 587.4 306.4 588.2 306.5 588.8 306.3 589.2 305.5 590.2 304.6 591.8 303.1 592.8 302.5 593.5 298.5 600.0 296.4 609.8 294.8 613.8 293.5 615.4 291.5 617.0 290.5 617.5 289.0 617.8Z"/>
<path d="M257.0 664.8 254.5 664.5 253.0 664.0 252.0 663.3 250.7 661.8 249.9 659.8 249.8 658.8 250.1 657.8 251.5 655.8 253.0 654.7 255.0 654.0 257.0 654.1 258.5 654.5 260.0 655.1 261.0 655.8 262.0 656.8 262.6 657.8 262.9 658.8 263.0 659.8 262.9 660.8 262.4 661.8 261.5 662.8 259.5 664.1 257.0 664.8Z"/>
<path d="M287.0 615.8 285.0 616.0 283.0 615.5 279.0 613.7 276.5 611.9 274.3 610.8 272.5 609.4 271.5 609.0 270.5 608.9 269.5 609.1 263.5 611.8 258.0 612.0 254.5 611.6 252.5 611.0 251.0 610.2 249.0 608.3 247.5 607.2 244.5 603.8 243.7 602.2 242.6 599.2 242.5 595.8 242.9 590.8 243.6 587.8 245.9 582.8 248.6 579.2 251.5 576.9 255.0 574.7 256.5 574.0 260.0 573.1 263.0 572.9 265.0 573.0 267.5 573.8 271.5 576.0 272.5 576.8 276.0 580.4 277.1 581.2 278.0 581.6 281.5 582.1 287.5 583.8 290.5 585.2 292.5 586.4 295.0 587.4 296.3 588.2 297.1 589.2 298.1 591.2 298.3 593.2 297.8 596.2 296.5 599.8 296.1 603.2 294.7 609.2 292.8 612.8 292.0 613.8 290.0 614.9 287.0 615.8Z"/>
<path d="M257.0 663.8 255.0 663.6 252.9 662.8 252.0 661.8 251.2 659.8 251.3 658.2 252.1 656.8 253.5 655.6 255.5 654.9 257.5 655.1 259.5 655.9 261.1 657.2 261.8 658.8 261.8 659.8 261.6 660.8 260.6 662.2 259.0 663.3 257.0 663.8Z"/>
<path d="M286.0 614.3 284.5 614.4 283.5 614.2 279.5 612.6 275.5 609.8 273.0 607.2 271.5 606.5 270.0 606.7 267.1 607.8 263.0 609.6 261.0 609.8 255.5 609.4 253.0 608.9 252.0 608.4 250.5 607.2 248.5 605.9 245.8 602.8 244.8 600.8 244.1 598.2 244.0 596.8 244.2 591.2 244.6 588.8 246.2 585.2 247.7 582.8 250.2 579.8 254.8 576.2 257.0 575.1 262.0 574.0 264.0 573.8 265.5 574.0 269.0 575.5 271.5 577.2 272.6 578.2 275.1 581.2 276.5 582.4 277.5 582.8 281.0 583.0 284.0 584.0 289.5 587.0 293.4 589.8 294.9 593.2 295.4 595.8 295.0 598.8 294.8 602.8 293.7 607.8 292.5 610.2 291.0 612.2 289.0 613.4 286.0 614.3Z"/>
<path d="M258.5 662.3 257.5 662.6 256.0 662.7 254.5 662.3 253.5 661.7 252.9 660.8 252.5 659.2 252.6 658.2 253.5 657.0 255.0 656.1 256.5 655.9 258.0 656.2 259.6 657.2 260.4 658.2 260.6 659.8 259.9 661.2 258.5 662.3Z"/>
<path d="M286.5 612.9 285.0 613.1 283.5 613.1 279.5 611.4 276.5 609.1 273.0 604.8 272.5 604.4 271.5 604.0 269.8 604.2 266.5 605.5 264.0 606.9 262.5 607.5 259.5 608.0 256.5 607.8 253.0 606.8 249.0 604.1 246.8 601.8 246.1 600.2 245.4 596.8 245.6 590.8 246.0 588.8 248.1 584.8 248.7 583.8 251.1 580.8 255.0 577.4 257.5 576.1 262.0 574.9 264.0 574.7 265.5 574.9 268.0 575.9 271.0 577.9 271.9 578.8 274.5 582.1 276.0 583.4 277.5 583.8 280.5 583.7 283.0 584.5 285.0 585.8 291.2 590.8 292.0 591.7 292.6 592.8 293.4 595.2 293.7 601.8 293.3 604.8 292.4 607.8 291.0 610.2 289.0 611.9 286.5 612.9Z"/>
<path d="M257.5 661.3 256.5 661.4 255.5 661.3 254.6 660.8 254.3 660.2 254.1 659.8 254.1 658.8 254.7 657.8 255.3 657.2 256.5 657.0 257.5 657.2 258.5 657.7 259.0 658.3 259.3 659.2 259.0 660.2 258.5 660.8 257.5 661.3Z"/>
<path d="M286.0 611.8 284.5 612.1 283.0 611.8 281.0 611.0 279.0 609.8 276.8 607.8 273.5 602.6 273.0 602.1 272.0 601.7 271.0 601.7 269.5 601.9 263.0 605.5 259.5 606.4 257.0 606.3 254.0 605.4 253.0 604.9 250.5 603.2 247.8 600.2 246.9 596.8 246.9 594.8 247.3 589.8 247.6 588.8 249.5 584.8 252.0 581.7 255.0 578.8 256.5 577.8 261.5 575.9 263.5 575.6 265.0 575.7 267.5 576.6 270.5 578.7 274.0 583.1 275.5 584.5 277.0 584.9 279.5 584.5 280.5 584.6 282.5 585.2 284.0 586.2 286.7 588.8 288.0 590.3 289.7 591.8 290.9 593.2 291.9 595.2 292.2 597.8 292.4 603.8 292.3 604.8 291.4 607.2 290.5 608.8 289.5 609.9 288.0 611.0 286.0 611.8Z"/>
<path d="M286.0 610.8 284.5 611.1 282.5 610.7 280.5 609.8 278.5 608.2 277.3 606.8 276.2 604.8 274.0 599.4 273.5 598.8 273.0 598.5 272.0 598.7 262.6 604.2 260.0 605.0 258.5 605.0 254.5 604.0 253.0 603.2 251.0 601.6 249.6 599.8 248.4 596.2 248.3 594.2 248.8 589.8 250.7 585.2 252.6 582.8 255.0 580.0 256.5 578.9 260.5 577.1 263.5 576.5 265.5 576.6 267.5 577.5 270.0 579.3 274.0 584.7 275.0 585.8 275.5 586.0 276.5 586.1 279.5 585.4 281.0 585.5 282.7 586.2 284.9 588.2 285.8 589.2 287.5 591.9 289.5 593.7 290.5 595.2 291.0 597.2 291.5 602.2 291.3 604.8 290.6 606.8 290.1 607.8 288.5 609.4 286.0 610.8Z"/>
<path d="M285.0 610.3 283.5 610.3 281.5 609.6 279.6 608.2 278.2 606.8 277.3 605.2 276.3 602.8 275.2 596.2 274.5 594.7 274.0 594.3 273.0 594.8 271.1 597.2 269.5 598.8 266.5 600.8 261.5 603.4 259.0 603.6 255.5 602.8 254.0 602.1 251.6 600.2 251.0 599.2 250.2 596.2 249.9 592.2 250.1 589.8 252.3 584.8 253.7 582.8 255.9 580.2 257.0 579.5 261.0 577.7 263.5 577.1 265.5 577.3 267.5 578.2 269.9 580.2 272.1 583.2 274.0 586.6 274.5 587.2 275.0 587.4 276.0 587.3 279.0 586.3 280.5 586.1 282.0 586.6 283.9 588.2 285.1 589.8 286.9 592.8 289.0 594.8 289.6 595.8 290.3 598.2 290.8 602.8 290.7 604.2 290.4 605.2 289.8 606.8 289.2 607.8 287.5 609.2 286.0 610.0 285.0 610.3Z" stroke-width="0.95"/>
<path d="M259.5 602.3 258.0 602.2 256.0 601.6 253.0 599.5 252.3 598.8 251.7 596.8 251.3 593.8 251.1 590.8 251.2 589.8 253.2 584.8 254.6 582.8 256.5 580.6 257.8 579.8 260.5 578.5 263.0 577.8 265.0 577.8 266.0 578.1 267.5 579.0 269.0 580.2 269.9 581.2 272.3 584.8 273.5 588.4 274.5 590.2 273.5 591.3 270.2 596.8 269.0 598.1 266.5 599.8 265.0 600.5 261.5 602.0 259.5 602.3Z" stroke-width="0.95"/>
<path d="M286.0 609.3 285.0 609.6 283.5 609.6 282.0 609.2 281.0 608.6 280.0 607.8 278.6 606.2 277.0 602.8 276.7 601.2 276.7 596.8 274.5 590.8 274.5 590.2 276.6 588.2 279.0 587.0 280.0 586.8 281.0 586.9 282.0 587.4 283.0 588.2 284.3 589.8 286.2 593.2 288.5 595.6 289.3 597.2 290.0 600.8 290.1 603.2 290.0 604.8 289.4 606.2 288.5 607.6 287.5 608.4 286.0 609.3Z" stroke-width="0.95"/>
<path d="M260.5 600.8 258.0 600.8 257.0 600.6 256.0 600.1 253.5 597.8 253.0 596.5 252.5 594.2 252.4 589.8 253.3 586.2 254.0 584.8 254.9 583.2 257.0 580.9 258.5 579.9 261.0 578.8 263.5 578.3 265.0 578.3 266.5 579.0 268.5 580.5 269.5 581.5 271.1 583.8 272.2 586.2 272.6 589.2 272.5 590.2 271.4 593.2 269.6 596.2 268.5 597.6 265.0 599.6 262.5 600.4 260.5 600.8Z" stroke-width="0.95"/>
<path d="M285.5 608.9 284.5 609.1 283.5 609.0 282.0 608.6 281.0 608.0 279.0 605.8 277.6 602.8 277.4 600.8 277.7 596.8 276.3 593.2 276.0 591.8 276.0 590.8 276.5 589.8 277.3 588.8 278.5 587.9 279.5 587.5 280.5 587.4 281.5 587.7 283.0 589.1 283.8 590.2 285.6 593.8 287.5 595.8 288.3 596.8 289.1 598.8 289.4 600.8 289.6 603.2 289.2 605.2 288.8 606.2 288.0 607.3 287.0 608.1 285.5 608.9Z" stroke-width="0.95"/>
<path d="M263.5 599.3 261.0 599.6 258.5 599.5 257.0 599.2 256.0 598.4 254.5 596.8 253.8 595.2 253.4 593.2 253.4 590.8 253.9 586.8 254.4 585.2 255.2 583.8 256.8 581.8 258.0 580.7 260.0 579.7 262.5 578.9 264.0 578.7 265.5 579.0 266.5 579.5 268.1 580.8 269.5 582.2 271.3 585.2 271.7 586.8 271.9 588.8 271.7 590.2 271.1 592.2 268.8 596.2 267.5 597.5 265.0 598.8 263.5 599.3Z" stroke-width="0.95"/>
<path d="M285.5 608.3 284.5 608.5 283.5 608.5 281.5 607.7 279.5 605.6 278.1 602.8 277.9 601.2 278.5 597.8 278.5 596.8 277.0 593.2 276.8 591.2 277.1 590.2 277.8 589.2 279.5 588.1 281.0 588.2 282.5 589.4 283.4 590.8 285.0 594.2 287.5 596.9 288.3 598.2 288.7 599.2 289.1 602.8 288.9 604.8 288.5 605.8 287.8 606.8 287.0 607.5 285.5 608.3Z" stroke-width="0.95"/>
<path d="M262.0 598.8 260.0 598.7 257.8 598.2 256.5 597.4 255.4 596.2 254.7 594.8 254.2 592.2 254.5 587.2 254.8 585.8 255.5 584.2 257.0 582.2 258.0 581.3 259.5 580.4 261.5 579.7 263.0 579.3 264.5 579.3 265.5 579.5 267.0 580.5 268.5 581.8 269.7 583.2 270.6 584.8 271.1 586.2 271.2 589.2 270.9 591.2 270.5 592.2 268.0 596.3 267.0 597.1 264.5 598.3 262.0 598.8Z" stroke-width="0.95"/>
<path d="M285.0 607.9 283.5 608.0 282.5 607.6 281.5 607.0 279.8 605.2 278.6 602.8 278.5 601.2 279.3 597.8 279.3 596.8 279.0 595.8 277.6 593.2 277.4 591.8 277.7 590.8 278.4 589.8 279.0 589.2 280.0 588.7 281.0 588.9 282.0 589.8 283.0 591.2 284.4 594.8 287.3 597.8 288.3 599.8 288.6 601.2 288.6 603.2 288.1 605.2 287.0 606.8 286.0 607.5 285.0 607.9Z" stroke-width="0.95"/>
<path d="M264.0 597.8 262.5 598.1 261.0 598.1 259.0 597.7 257.5 596.9 256.5 596.0 255.8 594.8 255.1 592.8 254.9 591.2 255.1 587.8 255.3 586.2 255.9 584.8 257.2 582.8 258.5 581.5 260.0 580.6 262.5 579.8 264.0 579.7 265.0 579.8 266.0 580.3 267.5 581.4 268.8 582.8 270.3 585.2 270.6 586.2 270.8 587.8 270.6 589.8 270.2 591.8 268.2 595.2 267.0 596.5 264.0 597.8Z" stroke-width="0.95"/>
<path d="M285.0 607.4 283.5 607.5 282.5 607.1 281.5 606.4 280.0 604.8 279.1 602.8 278.9 601.8 279.0 600.8 280.3 596.8 280.0 595.8 278.5 593.5 278.2 592.2 278.6 590.8 279.5 589.8 280.0 589.6 281.0 589.8 282.0 590.7 282.5 591.8 283.3 594.2 283.8 595.2 287.0 598.2 287.7 599.2 288.0 600.2 288.2 602.8 287.8 604.8 286.9 606.2 286.0 607.0 285.0 607.4Z" stroke-width="0.95"/>
<path d="M263.5 597.3 262.0 597.5 261.0 597.4 258.5 596.5 257.6 595.8 256.8 594.8 255.9 592.8 255.6 591.8 255.6 590.2 255.7 587.8 256.1 585.8 256.7 584.2 257.7 582.8 259.0 581.6 260.5 580.9 262.5 580.2 264.0 580.1 265.0 580.3 266.0 580.8 267.5 581.9 268.7 583.2 270.1 585.8 270.3 588.2 270.1 590.2 269.7 591.8 267.6 595.2 267.0 595.9 266.0 596.5 263.5 597.3Z" stroke-width="0.95"/>
<path d="M281.5 594.8 280.5 594.4 280.0 594.0 279.2 592.8 279.2 591.8 279.5 591.2 280.0 590.7 280.5 590.7 281.0 590.8 281.5 591.3 281.9 592.2 282.1 594.2 282.0 594.5 281.5 594.8Z" stroke-width="0.95"/>
<path d="M285.5 606.8 284.0 607.1 282.5 606.5 281.5 605.8 280.6 604.8 279.5 602.8 279.4 601.2 279.8 599.8 280.5 598.4 282.0 596.4 282.5 596.0 283.0 596.0 284.0 596.5 286.0 598.0 287.0 599.1 287.6 600.2 287.8 602.2 287.5 604.2 286.7 605.8 285.5 606.8Z" stroke-width="0.95"/>
<path d="M263.5 596.8 262.0 596.9 261.1 596.8 258.0 594.9 257.2 593.8 256.5 592.2 256.1 590.2 256.4 586.8 257.0 584.8 257.8 583.2 258.8 582.2 260.0 581.5 262.0 580.7 263.5 580.5 265.0 580.7 266.0 581.2 268.3 583.2 269.5 585.2 269.8 586.2 269.9 587.8 269.4 591.2 269.0 592.3 267.5 594.6 266.0 595.9 263.5 596.8Z" stroke-width="0.95"/>
<path d="M285.5 606.3 284.0 606.6 282.5 606.0 281.0 604.6 280.0 602.8 279.9 601.2 280.5 599.4 281.5 598.3 283.0 597.4 284.0 597.4 285.5 598.3 286.5 599.3 287.2 600.8 287.4 602.8 287.1 604.2 286.5 605.3 285.5 606.3Z" stroke-width="0.95"/>
<path d="M263.0 596.3 261.5 596.2 259.0 594.7 258.0 593.8 257.4 592.8 256.8 591.2 256.6 588.8 256.8 587.2 257.3 585.2 257.7 584.2 258.5 583.0 259.4 582.2 260.5 581.6 262.0 581.1 263.5 580.9 265.0 581.2 266.0 581.7 268.3 583.8 269.3 585.8 269.5 588.2 269.0 591.3 268.5 592.4 267.0 594.6 265.5 595.7 263.0 596.3Z" stroke-width="0.95"/>
<path d="M285.5 605.8 284.5 606.2 283.0 605.8 281.5 604.6 280.4 602.8 280.3 601.2 280.9 599.8 281.5 599.1 283.0 598.3 284.0 598.2 285.0 598.6 286.2 599.8 286.8 600.8 287.0 602.2 286.8 603.8 286.4 604.8 285.5 605.8Z" stroke-width="0.95"/>
<path d="M265.0 595.4 263.5 595.7 262.0 595.6 259.5 594.2 258.5 593.4 258.0 592.8 257.1 590.2 257.2 587.2 257.7 585.2 258.4 583.8 260.0 582.2 262.5 581.4 264.5 581.4 266.2 582.2 268.2 584.2 269.1 586.2 269.1 589.2 268.5 591.6 266.7 594.2 266.0 594.9 265.0 595.4Z" stroke-width="0.95"/>
<path d="M285.0 605.5 284.0 605.7 282.9 605.2 281.8 604.2 280.9 602.8 280.8 601.2 281.2 600.2 282.0 599.5 283.0 599.1 284.0 598.9 285.0 599.3 286.0 600.2 286.4 601.2 286.6 602.8 286.4 603.8 285.8 604.8 285.0 605.5Z" stroke-width="0.95"/>
<path d="M265.0 594.9 263.5 595.2 262.5 595.1 260.0 593.8 259.2 593.2 258.5 592.5 257.6 590.2 257.4 588.8 257.6 587.2 258.5 584.2 260.0 582.7 262.0 581.8 264.0 581.7 265.0 582.0 266.0 582.5 267.8 584.2 268.4 585.2 268.7 586.2 268.8 588.8 268.2 591.2 266.5 593.9 265.0 594.9Z" stroke-width="0.95"/>
<path d="M285.0 604.9 284.5 605.1 283.5 605.0 282.5 604.4 281.6 603.2 281.3 602.2 281.4 601.2 282.0 600.3 282.5 600.0 283.5 599.6 284.5 599.7 285.7 600.8 286.1 601.8 286.1 602.8 285.8 603.8 285.0 604.9Z" stroke-width="0.95"/>
<path d="M265.0 594.4 263.0 594.7 262.0 594.4 261.0 593.9 259.0 592.3 258.0 590.2 257.9 587.8 258.7 584.8 259.4 583.8 260.0 583.1 261.0 582.5 262.0 582.2 264.0 582.1 265.5 582.6 267.5 584.4 268.1 585.2 268.4 586.2 268.4 588.8 268.0 590.8 266.5 593.2 266.0 593.8 265.0 594.4Z" stroke-width="0.95"/>
<path d="M284.5 604.3 284.0 604.4 283.0 604.0 282.1 602.8 282.0 601.8 282.2 601.2 282.6 600.8 283.5 600.3 284.5 600.5 285.0 600.9 285.5 601.8 285.5 602.8 285.4 603.2 284.5 604.3Z" stroke-width="0.95"/>
<path d="M263.5 594.3 262.5 594.1 261.5 593.7 259.5 592.2 258.5 590.4 258.2 588.8 258.5 586.5 259.4 584.2 261.0 582.9 263.0 582.4 264.0 582.4 265.0 582.7 266.5 583.8 267.7 585.2 268.1 586.8 267.8 589.8 267.0 591.7 265.5 593.6 264.5 594.1 263.5 594.3Z" stroke-width="0.95"/>
<path d="M284.5 602.9 284.0 603.2 283.5 603.1 283.0 602.5 283.0 601.8 283.8 601.2 284.5 601.5 284.7 602.2 284.5 602.9Z" stroke-width="0.95"/>
<path d="M264.0 593.8 262.5 593.7 260.5 592.5 259.4 591.2 258.6 589.2 258.7 587.2 259.6 584.8 261.0 583.3 262.5 582.8 264.5 582.9 266.0 583.8 267.3 585.2 267.8 586.8 267.5 589.2 267.0 590.9 265.5 593.0 265.0 593.4 264.0 593.8Z" stroke-width="0.95"/>
<path d="M264.0 593.3 262.5 593.2 260.5 592.0 259.5 590.6 258.9 588.8 259.0 587.2 260.0 584.8 261.0 583.7 262.5 583.1 264.0 583.2 265.5 583.8 266.9 585.2 267.4 586.8 267.1 589.2 266.5 590.8 265.0 592.8 264.0 593.3Z" stroke-width="0.95"/>
<path d="M263.5 592.9 262.0 592.5 260.5 591.3 259.6 589.8 259.3 588.2 259.6 586.8 260.6 584.8 261.5 583.9 263.0 583.5 264.5 583.7 265.5 584.3 266.5 585.4 267.0 586.8 266.7 588.8 266.2 590.2 264.7 592.2 264.0 592.7 263.5 592.9Z" stroke-width="0.95"/>
<path d="M264.0 591.8 263.0 592.1 261.5 591.4 260.5 590.2 259.9 588.8 260.0 587.5 260.9 585.2 261.5 584.5 262.5 584.0 264.0 584.1 265.0 584.6 266.0 585.8 266.4 586.8 266.3 587.8 265.9 589.2 264.0 591.8Z" stroke-width="0.95"/>
<path d="M263.5 590.8 263.0 591.0 262.0 590.7 261.3 589.8 260.9 588.2 261.0 586.8 261.5 585.4 262.1 584.8 263.0 584.5 264.0 584.7 264.5 585.0 265.2 585.8 265.6 586.8 265.6 587.8 265.2 588.8 264.5 589.8 263.5 590.8Z" stroke-width="0.95"/>
<path d="M263.5 589.0 263.0 589.1 262.6 588.8 262.0 587.2 262.0 586.2 262.3 585.8 263.0 585.3 264.0 585.8 264.4 586.8 264.4 587.8 264.0 588.6 263.5 589.0Z" stroke-width="0.95"/>
</g>
<line x1="273.75" y1="526.25" x2="273.75" y2="660" stroke="#5050d8" stroke-width="0.8"/>
<line x1="219.5" y1="625" x2="355" y2="625" stroke="#5050d8" stroke-width="0.8"/>
<rect x="219.5" y="526.25" width="135.5" height="133.75" fill="none" stroke="#000" stroke-width="1.5"/>
<text x="222.5" y="540.8" font-size="14.0" text-anchor="start" fill="#2424c4" stroke="#2424c4" stroke-width="0.22" >58.6</text>
<text x="351.8" y="540.8" font-size="14.0" text-anchor="end" fill="#2424c4" stroke="#2424c4" stroke-width="0.22" >35.6</text>
<text x="222.5" y="658" font-size="14.0" text-anchor="start" fill="#2424c4" stroke="#2424c4" stroke-width="0.22" >4.31</text>
<text x="351.8" y="658" font-size="14.0" text-anchor="end" fill="#2424c4" stroke="#2424c4" stroke-width="0.22" >1.5</text>
<clipPath id="ck"><rect x="359.5" y="526.25" width="135.5" height="133.75"/></clipPath>
<g clip-path="url(#ck)" fill="none" stroke="#000" stroke-width="0.75" stroke-linejoin="round">
<path d="M404.5 639.8 400.5 640.0 396.5 639.3 392.0 637.4 388.5 634.5 386.7 632.2 385.0 630.6 383.9 629.2 380.5 622.8 378.3 619.8 375.7 614.2 375.1 611.8 374.4 609.8 373.6 606.2 374.3 599.8 375.0 597.2 375.4 593.2 375.9 591.2 377.5 587.2 379.3 583.2 380.5 579.8 383.2 574.8 386.0 570.8 387.5 569.2 389.0 568.0 391.0 566.9 394.5 565.5 398.5 564.7 402.0 564.9 406.0 566.1 409.0 567.5 412.5 570.2 416.5 574.6 420.4 578.2 422.2 580.2 425.3 584.8 427.1 586.8 428.9 589.8 433.7 595.2 434.8 597.2 435.3 599.8 435.4 601.2 435.1 602.8 434.4 604.8 433.6 606.2 432.0 607.7 426.0 612.1 424.4 613.8 423.0 615.7 422.1 617.8 421.2 620.8 420.0 623.2 418.5 627.8 414.8 633.2 413.0 635.2 411.7 636.2 408.0 638.5 404.5 639.8Z"/>
<path d="M403.0 665.4 400.0 665.6 398.5 665.6 395.5 665.0 393.5 664.4 392.3 663.8 391.3 662.8 390.9 661.8 391.1 660.8 392.0 659.6 393.5 658.8 396.5 657.9 399.0 657.6 401.5 657.6 404.5 658.0 406.5 658.7 408.2 659.8 408.9 660.8 409.0 661.8 408.6 662.8 408.1 663.2 406.0 664.6 403.0 665.4Z"/>
<path d="M419.5 664.4 418.5 664.5 417.0 664.5 415.5 664.0 414.5 663.4 413.9 662.8 413.5 661.8 413.6 660.8 413.9 660.2 414.5 659.6 415.5 659.0 417.5 658.4 419.5 658.6 421.0 659.3 421.6 659.8 422.2 660.8 422.3 661.2 422.2 662.2 421.5 663.2 421.0 663.7 419.5 664.4Z"/>
<path d="M403.5 636.9 402.0 637.1 399.5 636.9 397.5 636.5 395.5 635.8 394.5 635.2 389.4 630.8 387.5 628.2 385.5 623.8 381.7 617.2 380.7 614.8 379.7 611.2 379.2 607.8 379.1 598.8 380.0 591.2 381.5 586.3 382.3 582.2 383.7 577.8 385.2 574.8 386.5 572.8 387.7 571.2 389.5 569.6 392.0 568.0 394.0 567.1 396.0 566.5 399.0 566.0 402.0 566.3 406.0 567.5 408.5 568.9 411.4 571.2 413.2 573.2 417.0 578.9 421.0 584.1 423.5 588.5 432.3 597.2 433.0 598.8 433.2 600.2 433.2 601.2 432.9 602.2 431.5 604.2 430.5 604.9 424.9 607.2 424.0 607.8 423.0 608.9 420.4 613.2 417.4 622.8 415.7 626.8 412.2 631.8 410.8 633.2 408.0 635.0 406.0 636.0 403.5 636.9Z"/>
<path d="M402.5 664.3 399.0 664.6 395.5 663.8 394.5 663.2 393.6 662.2 393.4 661.8 393.6 660.8 394.5 659.9 395.5 659.4 397.0 658.9 399.0 658.6 401.0 658.6 403.5 658.9 404.8 659.2 405.8 659.8 406.4 660.2 406.9 661.2 406.9 661.8 406.5 662.6 405.0 663.6 402.5 664.3Z"/>
<path d="M419.5 663.3 418.5 663.6 417.5 663.6 416.0 663.1 415.0 662.2 414.9 661.8 415.0 660.8 416.0 659.8 417.5 659.3 419.0 659.4 420.0 659.8 420.9 660.8 421.1 661.8 420.5 662.8 419.5 663.3Z"/>
<path d="M404.0 633.8 403.0 634.0 401.0 634.0 398.5 633.7 397.5 633.3 393.5 630.9 391.0 628.8 390.1 627.8 384.3 615.8 383.5 611.1 382.5 607.2 382.1 603.2 382.0 600.8 382.3 595.8 382.9 592.2 383.0 588.2 383.9 582.2 384.6 579.2 385.2 577.8 387.2 573.8 388.3 572.2 390.0 570.7 392.5 569.0 394.5 568.1 396.5 567.5 399.0 567.2 402.0 567.4 406.0 568.6 409.0 570.6 411.2 572.8 413.7 576.2 418.7 585.8 420.0 588.8 423.8 594.2 425.0 599.1 426.5 600.2 426.5 600.8 425.6 601.8 422.5 603.4 421.5 604.2 420.5 605.3 419.5 607.1 419.0 608.3 416.0 620.2 414.3 624.8 413.5 626.2 412.0 628.2 410.5 629.8 407.5 632.2 404.0 633.8Z"/>
<path d="M401.5 663.3 399.5 663.5 398.0 663.2 396.8 662.8 396.2 662.2 395.9 661.8 395.9 661.2 396.2 660.8 397.1 660.2 400.0 659.7 402.5 659.9 403.6 660.2 404.4 660.8 404.7 661.2 404.6 661.8 404.2 662.2 403.4 662.8 401.5 663.3Z"/>
<path d="M418.5 662.4 417.5 662.4 416.9 662.2 416.4 661.8 416.5 661.0 417.0 660.6 418.0 660.4 419.2 660.8 419.6 661.2 419.5 661.8 419.0 662.2 418.5 662.4Z"/>
<path d="M402.0 631.3 400.0 631.4 398.0 630.8 394.5 629.0 393.1 627.8 392.3 626.8 388.8 620.8 388.2 619.2 387.5 616.7 385.8 611.8 385.2 608.8 384.6 607.2 384.0 601.2 384.0 597.2 384.4 594.8 384.5 592.2 384.4 588.8 385.0 582.8 385.7 579.2 386.3 577.8 388.3 573.8 389.6 572.2 391.0 571.0 392.5 570.0 394.5 569.0 396.5 568.4 399.0 568.1 400.5 568.1 402.0 568.4 404.5 569.1 406.0 569.7 408.5 571.3 410.8 573.8 412.8 576.8 414.7 580.8 416.6 586.2 417.3 589.8 419.4 593.8 420.2 597.2 420.0 599.8 418.2 603.8 417.1 606.8 415.9 611.8 414.8 617.8 413.9 620.8 412.4 624.2 409.5 627.8 408.5 628.7 406.0 630.1 402.0 631.3Z"/>
<path d="M402.5 628.8 401.0 629.1 400.0 629.0 398.5 628.5 396.0 627.2 395.0 626.2 394.0 624.8 392.5 623.2 390.2 619.2 387.3 610.8 387.0 608.2 386.1 605.8 385.7 602.8 385.4 597.8 385.8 594.2 385.5 588.2 386.0 582.2 386.7 579.2 388.1 575.8 388.6 574.8 389.8 573.2 392.5 571.0 395.5 569.6 397.5 569.1 399.0 568.9 400.5 569.0 403.0 569.5 405.0 570.2 406.5 571.0 408.0 572.0 409.3 573.2 411.4 576.2 413.3 580.2 414.5 584.2 414.8 587.8 417.1 597.8 416.9 599.8 416.0 602.3 415.7 605.2 414.3 610.8 413.9 613.8 411.2 621.8 409.0 625.2 408.0 626.4 405.5 627.9 402.5 628.8Z"/>
<path d="M402.0 626.8 400.5 626.9 399.5 626.6 396.5 624.4 394.0 621.9 391.9 618.2 389.3 611.2 388.7 608.2 387.6 605.2 386.7 597.2 386.9 593.8 386.5 588.2 387.0 582.8 387.6 579.2 388.7 576.2 390.0 574.2 393.0 571.7 395.5 570.5 397.5 569.9 399.0 569.7 401.0 569.9 403.0 570.4 404.5 570.9 406.5 572.0 408.0 573.1 409.0 574.1 410.7 576.8 412.2 580.2 413.2 583.8 413.7 590.8 414.7 596.8 414.6 600.8 414.1 604.8 412.8 609.8 412.4 613.2 410.3 618.8 409.3 620.8 406.5 624.9 404.5 626.3 403.5 626.6 402.0 626.8Z"/>
<path d="M402.0 624.3 400.5 624.2 397.5 622.4 396.5 621.5 395.5 620.2 392.4 614.8 390.9 610.8 390.2 607.8 388.8 604.2 387.9 596.8 387.9 593.8 387.4 588.2 388.1 580.2 388.9 577.8 389.8 575.8 391.5 573.9 394.0 572.0 396.5 570.9 399.0 570.4 400.5 570.5 402.5 570.9 405.5 572.3 408.1 574.2 408.9 575.2 409.9 576.8 411.2 579.8 412.1 583.2 412.6 590.8 413.4 596.2 413.0 601.2 412.4 605.2 410.7 613.2 409.8 615.2 409.2 617.2 408.5 618.5 405.0 623.0 403.5 624.0 402.0 624.3Z"/>
<path d="M402.0 621.0 401.0 621.0 400.0 620.8 399.0 620.4 398.0 619.7 396.5 618.0 394.3 614.8 393.3 612.8 391.5 606.5 390.3 604.2 389.9 602.8 388.9 596.2 388.3 588.2 388.8 580.2 389.6 577.8 390.3 576.2 392.1 574.2 394.0 572.8 396.5 571.6 399.0 571.1 402.0 571.5 403.5 572.0 405.5 573.1 407.0 574.2 408.0 575.2 409.3 577.2 410.6 580.2 411.3 582.8 411.6 590.2 412.2 595.8 412.1 597.8 411.2 604.2 410.4 608.2 409.1 612.8 407.1 616.8 406.0 618.3 405.0 619.2 402.0 621.0Z"/>
<path d="M402.0 617.8 401.5 618.0 400.5 617.8 398.0 616.6 395.7 614.2 394.4 612.2 392.7 605.8 391.5 603.8 391.0 602.2 389.8 596.2 389.0 588.2 389.4 580.8 390.1 578.2 390.7 576.8 392.5 574.8 394.5 573.2 397.0 572.1 399.0 571.7 401.0 571.9 403.0 572.4 405.0 573.4 406.7 574.8 408.0 576.2 408.9 577.8 410.1 580.8 410.6 583.2 411.1 596.8 410.0 604.2 409.3 607.8 407.2 612.8 405.5 615.7 405.0 616.2 402.0 617.8Z"/>
<path d="M401.0 615.3 399.5 615.2 398.4 614.8 396.8 613.2 395.9 611.8 394.5 608.2 393.7 605.2 392.4 602.8 390.9 596.8 389.7 587.8 390.0 580.8 390.5 578.8 391.2 577.2 392.8 575.2 394.7 573.8 397.0 572.7 399.0 572.3 401.0 572.5 403.0 573.0 405.0 574.0 406.4 575.2 407.7 576.8 408.7 578.8 409.5 581.2 409.9 583.2 410.2 595.8 409.9 597.8 409.0 601.8 408.8 604.8 407.9 607.8 405.5 611.9 404.4 612.8 402.5 614.8 401.0 615.3Z"/>
<path d="M400.0 611.8 399.0 612.0 396.6 609.2 393.9 603.2 393.4 601.2 391.8 596.2 390.4 588.2 390.3 586.8 390.6 580.8 390.9 579.2 391.6 577.8 393.2 575.8 395.0 574.2 397.0 573.3 399.0 572.9 401.0 573.0 403.0 573.5 405.0 574.6 406.2 575.8 407.3 577.2 408.2 579.2 409.1 582.2 409.3 584.8 409.3 595.8 408.9 598.2 407.9 601.8 407.6 604.2 406.5 607.2 405.8 608.2 403.0 610.7 400.0 611.8Z" stroke-width="0.95"/>
<path d="M402.5 608.9 399.5 609.2 398.5 608.9 397.7 608.2 396.9 606.2 395.3 603.8 394.6 600.8 392.9 596.8 392.1 593.8 390.9 587.8 390.8 585.8 391.1 580.8 391.4 579.2 391.9 578.2 393.5 576.2 395.0 574.9 396.5 574.0 398.5 573.6 400.5 573.5 402.5 573.9 404.0 574.5 405.5 575.6 406.8 577.2 407.5 578.8 408.7 583.2 408.8 591.2 408.5 593.2 408.4 595.8 408.0 598.2 406.7 601.8 406.2 604.2 405.2 606.8 404.0 608.1 402.5 608.9Z" stroke-width="0.95"/>
<path d="M401.5 607.3 400.0 607.4 399.0 606.9 396.6 603.8 395.4 600.2 393.7 596.8 392.8 594.2 392.3 590.8 391.5 588.2 391.3 586.8 391.4 581.2 391.7 579.8 392.1 578.8 394.2 576.2 395.5 575.1 397.0 574.4 399.5 574.0 401.0 574.0 403.0 574.5 404.4 575.2 405.5 576.3 406.5 577.8 407.2 579.2 408.2 583.8 408.1 588.8 408.2 591.2 407.8 593.8 407.6 595.8 407.0 598.7 406.5 600.0 405.5 601.8 404.9 604.2 404.0 605.8 403.0 606.9 401.5 607.3Z" stroke-width="0.95"/>
<path d="M401.5 605.8 400.5 605.9 400.0 605.7 399.0 604.9 397.0 601.8 396.2 599.8 395.0 597.8 393.3 593.8 393.0 590.8 392.0 588.2 391.7 586.2 391.8 581.2 392.2 579.8 392.7 578.8 394.5 576.6 396.0 575.4 397.5 574.8 400.0 574.4 401.5 574.6 403.0 575.0 404.5 575.9 405.5 576.9 406.4 578.2 406.7 579.2 407.7 583.8 407.6 588.8 407.7 591.2 407.1 593.8 406.5 597.2 405.6 599.8 404.3 601.8 403.6 603.8 402.5 605.2 401.5 605.8Z" stroke-width="0.95"/>
<path d="M401.5 603.3 400.5 603.6 400.0 603.4 398.5 602.0 397.9 601.2 396.9 599.2 395.5 597.2 393.8 593.2 393.4 590.2 392.4 587.8 392.1 586.2 392.1 581.8 392.4 580.2 393.0 579.1 394.9 576.8 396.0 575.9 397.5 575.2 400.0 574.8 401.5 575.0 403.0 575.5 404.2 576.2 405.3 577.2 406.3 579.2 407.2 583.2 407.1 588.8 407.2 591.2 406.5 593.8 405.9 596.8 405.2 598.2 403.5 600.2 402.6 602.2 401.5 603.3Z" stroke-width="0.95"/>
<path d="M401.0 601.5 400.0 601.5 399.0 600.9 395.7 596.2 394.2 592.8 394.0 590.2 392.9 587.8 392.5 585.8 392.5 581.8 392.9 580.2 393.5 579.2 395.0 577.3 396.0 576.4 398.0 575.5 400.0 575.2 401.5 575.4 402.6 575.8 404.0 576.6 405.0 577.5 405.9 579.2 406.7 582.8 406.7 591.2 405.8 593.8 405.1 596.8 404.2 598.2 403.0 599.2 401.5 601.2 401.0 601.5Z" stroke-width="0.95"/>
<path d="M401.0 599.9 400.5 600.0 399.5 599.6 397.0 597.0 396.1 595.8 394.8 592.8 394.3 589.8 393.3 587.2 392.9 585.2 392.8 582.8 393.0 581.2 393.4 580.2 394.3 578.8 395.5 577.3 396.5 576.6 398.0 575.9 400.0 575.6 401.5 575.8 402.5 576.1 404.7 577.8 405.5 579.2 406.2 582.8 406.0 584.8 406.0 591.2 404.1 597.2 401.0 599.9Z" stroke-width="0.95"/>
<path d="M401.0 598.8 400.0 598.7 399.0 598.0 397.5 596.5 396.6 595.2 395.4 592.8 394.8 589.8 393.4 586.2 393.2 583.8 393.2 582.2 393.5 581.0 394.4 579.2 395.5 577.9 396.5 577.0 397.5 576.5 400.0 575.9 402.0 576.3 403.5 577.2 404.5 578.1 405.2 579.2 405.8 582.2 405.6 584.8 405.6 589.8 405.4 591.2 404.0 595.6 403.5 596.6 402.5 597.8 401.0 598.8Z" stroke-width="0.95"/>
<path d="M401.0 597.8 400.0 597.6 399.0 597.0 398.0 596.2 397.0 594.8 395.8 592.2 395.1 589.2 393.8 586.2 393.5 584.2 393.5 582.8 393.8 581.2 395.5 578.4 397.0 577.2 398.5 576.5 400.0 576.2 401.0 576.3 402.0 576.7 404.1 578.2 404.8 579.2 405.4 582.2 405.1 584.8 405.1 589.8 404.9 590.8 403.4 595.2 402.5 596.5 401.0 597.8Z" stroke-width="0.95"/>
<path d="M400.5 596.3 399.5 596.3 398.6 595.8 398.0 595.1 397.0 593.5 395.2 588.2 394.1 585.8 393.8 583.8 393.9 582.8 394.3 581.2 395.7 578.8 396.5 577.9 397.5 577.3 399.0 576.8 400.0 576.6 401.5 576.9 404.0 578.7 404.5 579.8 405.0 582.2 404.6 589.2 404.3 590.8 402.9 594.8 402.0 595.5 400.5 596.3Z" stroke-width="0.95"/>
<path d="M401.0 594.9 400.0 595.0 399.0 594.8 397.5 593.1 395.7 588.2 394.5 585.9 394.2 584.2 394.2 583.2 394.5 581.8 395.1 580.2 396.0 578.9 397.5 577.7 400.0 577.0 401.5 577.3 403.5 578.8 404.1 579.8 404.5 582.2 404.0 590.0 403.2 591.8 402.5 593.9 402.0 594.4 401.0 594.9Z" stroke-width="0.95"/>
<path d="M400.5 593.9 400.0 593.9 399.0 593.5 397.8 592.2 396.7 589.8 396.0 587.8 394.9 585.8 394.5 583.8 395.3 580.8 396.5 578.9 398.0 577.9 400.0 577.4 401.4 577.8 403.3 579.2 403.8 580.2 404.1 582.8 403.5 589.8 401.4 593.2 400.5 593.9Z" stroke-width="0.95"/>
<path d="M400.0 592.8 399.0 592.5 398.0 591.2 396.5 587.8 395.3 585.8 394.9 583.8 395.8 580.8 396.6 579.2 398.0 578.3 400.0 577.8 401.3 578.2 403.1 579.8 403.4 580.8 403.8 583.2 402.9 589.8 400.5 592.5 400.0 592.8Z" stroke-width="0.95"/>
<path d="M400.0 591.6 399.5 591.6 399.0 591.3 398.5 590.7 397.1 587.8 395.8 585.8 395.3 583.8 396.0 581.2 396.8 579.8 397.9 578.8 399.5 578.2 400.5 578.4 401.0 578.7 402.5 579.9 402.9 580.8 403.4 583.2 403.3 584.8 402.3 589.2 401.6 590.2 400.0 591.6Z" stroke-width="0.95"/>
<path d="M400.0 590.3 399.4 590.2 398.5 589.2 396.3 585.8 395.8 583.8 396.5 581.2 397.0 580.2 398.0 579.2 399.5 578.7 400.5 579.0 401.9 580.2 403.0 583.2 402.8 584.8 401.7 588.8 401.0 589.7 400.0 590.3Z" stroke-width="0.95"/>
<path d="M400.0 588.8 399.0 588.5 397.5 586.8 396.6 585.2 396.3 583.8 397.0 581.5 397.7 580.2 398.5 579.5 399.5 579.3 400.5 579.7 401.1 580.2 402.0 581.7 402.6 583.2 402.5 584.3 401.5 587.4 401.0 588.2 400.0 588.8Z" stroke-width="0.95"/>
<path d="M400.5 587.4 399.5 587.7 398.5 587.2 397.4 585.8 396.8 584.2 396.8 583.2 397.5 581.9 398.9 580.2 399.5 580.1 400.1 580.2 401.0 581.1 401.7 582.2 402.1 583.2 401.5 585.8 401.0 586.9 400.5 587.4Z" stroke-width="0.95"/>
<path d="M399.5 586.8 399.0 586.7 398.0 585.8 397.5 584.8 397.3 583.8 397.5 583.1 398.0 582.4 399.5 581.5 400.0 581.5 401.0 582.3 401.3 583.2 401.3 583.8 401.0 585.3 400.6 586.2 400.0 586.7 399.5 586.8Z" stroke-width="0.95"/>
<path d="M399.5 585.5 399.0 585.4 398.2 584.2 398.2 583.8 398.4 583.2 399.0 583.0 399.5 583.0 399.9 583.2 400.1 583.8 400.0 584.9 399.5 585.5Z" stroke-width="0.95"/>
</g>
<line x1="413.25" y1="526.25" x2="413.25" y2="660" stroke="#5050d8" stroke-width="0.8"/>
<line x1="359.5" y1="624.6" x2="495" y2="624.6" stroke="#5050d8" stroke-width="0.8"/>
<rect x="359.5" y="526.25" width="135.5" height="133.75" fill="none" stroke="#000" stroke-width="1.5"/>
<text x="362.5" y="540.8" font-size="14.0" text-anchor="start" fill="#2424c4" stroke="#2424c4" stroke-width="0.22" >87.4</text>
<text x="491.8" y="540.8" font-size="14.0" text-anchor="end" fill="#2424c4" stroke="#2424c4" stroke-width="0.22" >7.79</text>
<text x="362.5" y="658" font-size="14.0" text-anchor="start" fill="#2424c4" stroke="#2424c4" stroke-width="0.22" >3.63</text>
<text x="491.8" y="658" font-size="14.0" text-anchor="end" fill="#2424c4" stroke="#2424c4" stroke-width="0.22" >1.16</text>
<text x="287.3" y="519.5" font-size="14.0" text-anchor="middle" fill="#111" stroke="#111" stroke-width="0.22" >WT</text>
<text x="429" y="519.5" font-size="14.0" text-anchor="middle" fill="#111" stroke="#111" stroke-width="0.22" word-spacing="2"><tspan font-style="italic">Batf</tspan> KO</text>
<text x="356.5" y="677" font-size="14.0" text-anchor="middle" fill="#111" stroke="#111" stroke-width="0.22" >IL-4</text>
<text transform="translate(209.2 593.4) rotate(-90)" font-size="14.0" text-anchor="middle" fill="#111" stroke="#111" stroke-width="0.22" >CXCR5</text>
</svg>
</body></html>
